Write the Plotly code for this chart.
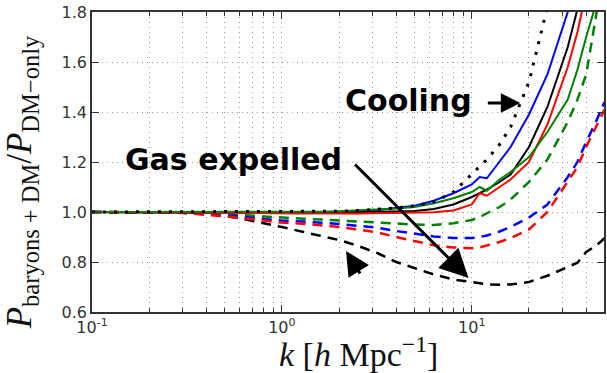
import plotly.graph_objects as go

# Wavenumber grid k [h/Mpc]
k = [0.1, 0.15, 0.2, 0.3, 0.4, 0.5, 0.6, 0.8, 1.0, 1.3, 1.6, 2.0, 2.5, 3.2, 4.0,
     5.0, 6.3, 8.0, 10, 11, 12, 14, 16, 20, 25, 32, 36, 40, 45, 50]

# Power spectrum ratios P_baryons+DM / P_DM-only
ratio_black_dashed = [1.0, 1.0, 0.999, 0.997, 0.993, 0.985, 0.975, 0.957, 0.94, 0.92, 0.905, 0.888,
                      0.865, 0.835, 0.80, 0.775, 0.75, 0.73, 0.718, 0.714, 0.711, 0.709, 0.71, 0.72,
                      0.745, 0.78, 0.797, 0.84, 0.865, 0.895]
ratio_blue_dashed = [1.0, 1.0, 0.999, 0.997, 0.993, 0.988, 0.982, 0.972, 0.966, 0.962, 0.958, 0.952,
                     0.945, 0.937, 0.924, 0.914, 0.902, 0.896, 0.896, 0.9, 0.906, 0.922, 0.94, 0.978,
                     1.03, 1.14, 1.2, 1.28, 1.36, 1.44]
ratio_red_dashed = [1.0, 1.0, 0.999, 0.996, 0.99, 0.983, 0.976, 0.965, 0.958, 0.953, 0.947, 0.94,
                    0.93, 0.918, 0.90, 0.884, 0.867, 0.858, 0.855, 0.858, 0.865, 0.88, 0.896, 0.93,
                    1.0, 1.12, 1.18, 1.26, 1.34, 1.41]
ratio_green_dashed = [1.0, 1.0, 0.999, 0.998, 0.996, 0.993, 0.989, 0.982, 0.977, 0.973, 0.97, 0.966,
                      0.961, 0.956, 0.952, 0.95, 0.948, 0.955, 0.968, 0.98, 0.995, 1.02, 1.05, 1.12,
                      1.21, 1.36, 1.45, 1.55, 1.78, 2.0]
ratio_blue_solid = [1.0, 1.0, 1.0, 0.999, 0.998, 0.997, 0.996, 0.995, 0.995, 0.996, 0.998, 1.0,
                    1.003, 1.008, 1.015, 1.025, 1.045, 1.075, 1.11, 1.14, 1.135, 1.2, 1.26, 1.39,
                    1.55, 1.80, 1.95, 2.1, 2.3, 2.5]
ratio_black_solid = [1.0, 1.0, 1.0, 0.999, 0.998, 0.997, 0.996, 0.995, 0.995, 0.995, 0.996, 0.997,
                     0.998, 0.999, 1.0, 1.004, 1.012, 1.03, 1.06, 1.075, 1.09, 1.12, 1.15, 1.26,
                     1.42, 1.66, 1.80, 1.95, 2.1, 2.3]
ratio_red_solid = [1.0, 1.0, 1.0, 0.999, 0.998, 0.997, 0.996, 0.995, 0.994, 0.994, 0.994, 0.994,
                   0.994, 0.995, 0.995, 0.997, 0.999, 1.006, 1.03, 1.075, 1.065, 1.1, 1.13, 1.2,
                   1.35, 1.58, 1.72, 1.88, 2.0, 2.2]
ratio_green_solid = [1.0, 1.0, 1.0, 1.0, 0.999, 0.999, 0.999, 0.999, 0.999, 1.0, 1.001, 1.003,
                     1.006, 1.01, 1.014, 1.02, 1.035, 1.055, 1.08, 1.10, 1.085, 1.13, 1.16, 1.22,
                     1.32, 1.45, 1.57, 1.70, 1.83, 2.0]
ratio_cooling = [1.0, 1.0, 1.0, 1.0, 1.0, 1.0, 1.0, 1.0, 1.0, 1.0, 1.001, 1.003,
                 1.006, 1.01, 1.016, 1.025, 1.04, 1.08, 1.15, 1.18, 1.21, 1.27, 1.34, 1.52,
                 1.82, 2.3, 2.6, 2.9, 3.2, 3.5]

# x tick positions and labels
k_tickvals = [0.1, 1, 10]
k_ticktext = ["10<sup>-1</sup>", "10<sup>0</sup>", "10<sup>1</sup>"]
k_minor_ticks = [0.2, 0.3, 0.4, 0.5, 0.6, 0.7, 0.8, 0.9,
                 2, 3, 4, 5, 6, 7, 8, 9,
                 20, 30, 40]

BLUE, GREEN, RED, BLACK = "#0000ff", "#008000", "#ff0000", "#000000"
DASH = "10px,7px"

series = [
    (ratio_black_dashed, BLACK, DASH, 2.5),
    (ratio_green_dashed, GREEN, DASH, 2.5),
    (ratio_blue_dashed, BLUE, DASH, 2.5),
    (ratio_red_dashed, RED, DASH, 2.5),
    (ratio_blue_solid, BLUE, "solid", 2),
    (ratio_black_solid, BLACK, "solid", 2),
    (ratio_red_solid, RED, "solid", 2),
    (ratio_green_solid, GREEN, "solid", 2),
    (ratio_cooling, BLACK, "3px,8px", 3),
]

fig = go.Figure()
for vals, color, dash, w in series:
    fig.add_trace(go.Scatter(x=k, y=vals, mode="lines",
                             line=dict(color=color, dash=dash, width=w),
                             showlegend=False, hoverinfo="skip"))

grid = dict(showgrid=True, gridcolor="#9a9a9a", gridwidth=1, griddash="1px,4px")
axis_common = dict(showline=True, linecolor="#333333", linewidth=1.5, mirror="ticks",
                   ticks="inside", tickcolor="#333333", ticklen=7,
                   tickfont=dict(family="DejaVu Sans", size=16, color="#333333"),
                   zeroline=False, **grid)

fig.update_xaxes(type="log", range=[-1, 1.696], tickvals=k_tickvals, ticktext=k_ticktext,
                 minor=dict(tickvals=k_minor_ticks, ticks="inside", ticklen=4,
                            tickcolor="#333333", **grid),
                 **axis_common)
fig.update_yaxes(range=[0.6, 1.8], dtick=0.2, tickformat=".1f", **axis_common)

W, H = 607, 373
L, R, T, B = 92, 1, 12, 61
PW, PH = W - L - R, H - T - B


def px(xp, yp):
    """Pixel position on the canvas -> paper coordinates."""
    return (xp - L) / PW, (H - B - yp) / PH


def label(xp, yp, text, font, **kw):
    x, y = px(xp, yp)
    return dict(x=x, y=y, xref="paper", yref="paper", xanchor="center", yanchor="middle",
                showarrow=False, text=text, font=font, **kw)


def arrow(xp, yp, dx, dy, **kw):
    x, y = px(xp, yp)
    return dict(x=x, y=y, xref="paper", yref="paper", ax=dx, ay=dy, text="",
                showarrow=True, arrowhead=2, arrowcolor="#000000", **kw)


serif = dict(family="Liberation Serif", color="#111111")
bold_sans = dict(family="DejaVu Sans", size=30, color="#000000")

annotations = [
    label(360, 352, "<i>k</i> [<i>h</i> Mpc<sup>−1</sup>]", dict(size=34, **serif)),
    label(21, 182, "<i>P</i><sub>baryons + DM</sub>/<i>P</i><sub>DM−only</sub>",
          dict(size=35, **serif), textangle=-90),
    label(410, 101, "<b>Cooling</b>", bold_sans),
    label(234, 159, "<b>Gas expelled</b>", bold_sans),
    arrow(522, 103, -34, 0, arrowsize=1.3, arrowwidth=3),
    arrow(470, 278, -115, -115, arrowsize=1.9, arrowwidth=3),
    arrow(347, 251, 15, 24, arrowsize=1.6, arrowwidth=3),
]

fig.update_layout(width=W, height=H, margin=dict(l=L, r=R, t=T, b=B),
                  paper_bgcolor="white", plot_bgcolor="white",
                  annotations=annotations)

fig.write_html("out.html")
